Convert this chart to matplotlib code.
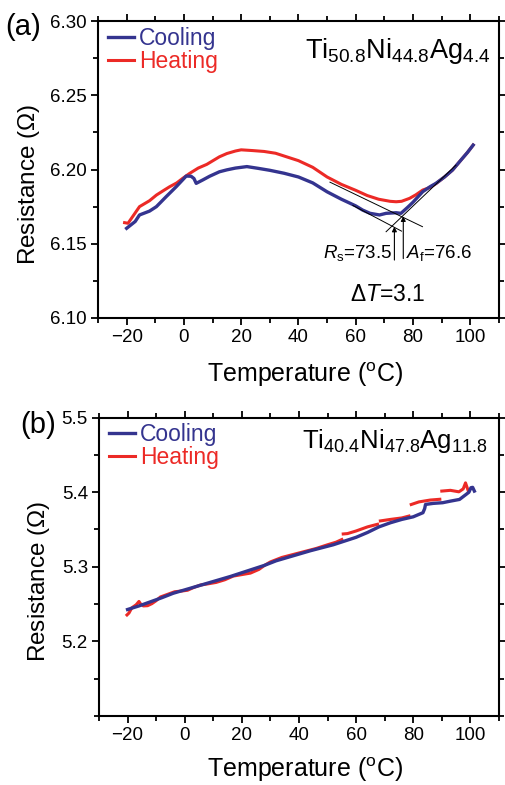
import matplotlib
matplotlib.use('Agg')
import numpy as np
import matplotlib.pyplot as plt
from matplotlib.ticker import MultipleLocator

plt.rcParams['font.family'] = ['Liberation Sans', 'DejaVu Sans']
plt.rcParams['mathtext.fontset'] = 'custom'
plt.rcParams['mathtext.rm'] = 'Liberation Sans'
plt.rcParams['mathtext.it'] = 'Liberation Sans:italic'
plt.rcParams['mathtext.bf'] = 'Liberation Sans:bold'

# ---- panel (a): Ti50.8Ni44.8Ag4.4 ----
cool_a_T = [-20, -17, -15.5, -12, -9.6, -6.2, -2.7, 0.8, 2.5, 3.5, 4.3, 6.6, 9, 12.4, 15, 18, 22, 26,
            30, 35, 40, 45, 50, 55, 60, 62.4, 65, 68.3, 70.6, 74.1, 75.8, 78.1, 80, 83.4, 86, 88,
            91, 93.8, 97, 99, 101]
cool_a_R = [6.1604, 6.165, 6.1694, 6.172, 6.175, 6.1817, 6.1884, 6.1956, 6.1955, 6.194, 6.1907, 6.193,
            6.1955, 6.1985, 6.1998, 6.201, 6.202, 6.2008, 6.1995, 6.1975, 6.195, 6.191, 6.185, 6.180,
            6.1755, 6.1727, 6.1705, 6.1694, 6.1705, 6.1709, 6.1705, 6.1745, 6.178, 6.1851, 6.1885,
            6.1907, 6.195, 6.1997, 6.207, 6.2115, 6.2165]
heat_a_T = [-20.7, -19.5, -18, -15.5, -12, -9.6, -7, -5, -2.5, -0.4, 2, 5, 8, 12.4, 15, 18, 20, 24,
            28, 32, 36, 40, 45, 50, 55, 60, 64, 68, 72, 74.1, 76, 78.8, 81, 83.4, 86, 88, 91, 93.8,
            97, 99, 101]
heat_a_R = [6.1642, 6.1638, 6.168, 6.175, 6.179, 6.1828, 6.186, 6.1884, 6.191, 6.1941, 6.1974, 6.201,
            6.2035, 6.2086, 6.2108, 6.2125, 6.2133, 6.2128, 6.2122, 6.211, 6.2085, 6.206, 6.2015,
            6.195, 6.190, 6.186, 6.1825, 6.180, 6.1786, 6.1783, 6.1786, 6.1806, 6.183, 6.1862,
            6.188, 6.1905, 6.195, 6.1997, 6.207, 6.2115, 6.2165]

# tangent construction lines (start/end T, start/end R)
tan_T = [(51, 83.3), (59, 76), (70.6, 95)]
tan_R = [(6.1915, 6.1615), (6.1758, 6.1585), (6.1581, 6.203)]
Rs, Af, dT = 73.5, 76.6, 3.1
arrow_R = [(6.139, 6.1615), (6.140, 6.1685)]

# ---- panel (b): Ti40.4Ni47.8Ag11.8 ----
cool_b_T = [101.4, 100.8, 100.2, 99.5, 98.5, 96.2, 93, 90.3, 87, 84.3, 84, 83.4, 80, 76, 72, 68, 64,
            60, 56, 52, 48, 44, 40, 36, 32, 28, 24, 20, 16, 12, 8, 4, 0, -4, -8, -12, -16, -20]
cool_b_R = [5.4015, 5.4065, 5.406, 5.400, 5.397, 5.3903, 5.388, 5.3859, 5.385, 5.3836, 5.378, 5.3725,
            5.367, 5.3635, 5.359, 5.3535, 5.346, 5.3395, 5.3345, 5.3295, 5.3255, 5.3215, 5.317,
            5.3125, 5.308, 5.302, 5.297, 5.292, 5.287, 5.2825, 5.278, 5.2735, 5.269, 5.2645,
            5.2585, 5.253, 5.2475, 5.2427]
heat_b_T = [-20.2, -19.5, -18.5, -17, -16, -15.5, -14.5, -13, -11.5, -10, -8.5, -6, -3.5, -1, 1, 3,
            5.5, 8, 11, 14, 17, 20, 23, 26, 28, 30, 34, 38, 42, 46, 50, 53, 55, np.nan, 55.5, 57, 60,
            64, 67.5, np.nan, 68.5, 72, 76, 78.5, np.nan, 79.3, 82, 86, 89.3, np.nan, 90, 93, 96,
            97.5, 98.3, 99.2]
heat_b_R = [5.2354, 5.238, 5.245, 5.249, 5.2535, 5.2505, 5.2475, 5.2478, 5.2505, 5.2545, 5.2595,
            5.263, 5.2665, 5.2675, 5.2685, 5.272, 5.2755, 5.277, 5.279, 5.2825, 5.2875, 5.2895,
            5.2915, 5.2965, 5.302, 5.3065, 5.3125, 5.3165, 5.3205, 5.3245, 5.3295, 5.333, 5.3365,
            np.nan, 5.344, 5.3445, 5.348, 5.3535, 5.357, np.nan, 5.3615, 5.3635, 5.3655, 5.368,
            np.nan, 5.3835, 5.387, 5.3895, 5.3905, np.nan, 5.4015, 5.4025, 5.4005, 5.4045, 5.4125,
            5.4025]

c_cool = '#34348f'
c_heat = '#ec2a26'

fig = plt.figure(figsize=(5.05, 7.85), dpi=100)
axa = fig.add_axes([0.194, 0.595, 0.794, 0.378])
axb = fig.add_axes([0.196, 0.088, 0.792, 0.380])


def style_axis(ax):
    ax.set_xlim(-30, 110)
    ax.set_xticks([-20, 0, 20, 40, 60, 80, 100])
    ax.xaxis.set_minor_locator(MultipleLocator(10))
    for s in ax.spines.values():
        s.set_linewidth(1.5)
    ax.tick_params(which='both', direction='out', top=True, right=True, width=1.3,
                   labelsize=13.5, pad=3)
    ax.tick_params(which='major', length=5)
    ax.tick_params(which='minor', length=3.5)
    ax.set_xlabel(r'Temperature ($^{\rm o}$C)', fontsize=18)
    ax.set_ylabel(r'Resistance ($\Omega$)', fontsize=17.5)


def add_legend(ax):
    ax.legend(loc='upper left', bbox_to_anchor=(0.01, 1.0), frameon=False, fontsize=16.5,
              labelcolor='linecolor', handlelength=1.15, handletextpad=0.2, labelspacing=0.0,
              borderaxespad=0.15, borderpad=0.1)


# panel (a)
ax = axa
ax.plot(cool_a_T, cool_a_R, color=c_cool, lw=2.4, label='Cooling', zorder=3)
ax.plot(heat_a_T, heat_a_R, color=c_heat, lw=2.2, label='Heating', zorder=2)
for tt, rr in zip(tan_T, tan_R):
    ax.plot(tt, rr, color='black', lw=0.7, zorder=4)
for x, (r0, r1) in zip([Rs, Af], arrow_R):
    ax.annotate('', xy=(x, r1), xytext=(x, r0),
                arrowprops=dict(arrowstyle='-|>', color='black', lw=0.8,
                                mutation_scale=7, shrinkA=0, shrinkB=0))
ax.text(Rs - 0.7, 6.1405, r'$R_{\rm s}$=' + f'{Rs}', ha='right', va='baseline', fontsize=13.5)
ax.text(Af + 1.1, 6.1405, r'$A_{\rm f}$=' + f'{Af}', ha='left', va='baseline', fontsize=13.5)
ax.text(71.3, 6.1155, r'$\Delta T$=' + f'{dT}', ha='center', va='center', fontsize=16.5)
ax.set_ylim(6.10, 6.30)
ax.set_yticks([6.10, 6.15, 6.20, 6.25, 6.30])
ax.yaxis.set_minor_locator(MultipleLocator(0.025))
style_axis(ax)
ax.text(0.978, 0.90, r'Ti$_{50.8}$Ni$_{44.8}$Ag$_{4.4}$', transform=ax.transAxes,
        ha='right', va='center', fontsize=19.5)
add_legend(ax)
ax.xaxis.set_label_coords(0.516, -0.142)
ax.yaxis.set_label_coords(-0.14, 0.45)

# panel (b)
ax = axb
ax.plot(cool_b_T, cool_b_R, color=c_cool, lw=2.4, label='Cooling', zorder=3)
ax.plot(heat_b_T, heat_b_R, color=c_heat, lw=2.2, label='Heating', zorder=2)
ax.set_ylim(5.1, 5.5)
ax.set_yticks([5.2, 5.3, 5.4, 5.5])
ax.yaxis.set_minor_locator(MultipleLocator(0.05))
style_axis(ax)
ax.text(0.972, 0.92, r'Ti$_{40.4}$Ni$_{47.8}$Ag$_{11.8}$', transform=ax.transAxes,
        ha='right', va='center', fontsize=18.5)
add_legend(ax)
ax.xaxis.set_label_coords(0.516, -0.132)
ax.yaxis.set_label_coords(-0.118, 0.45)

fig.text(5 / 505, 1 - 27 / 785, '(a)', fontsize=21, ha='left', va='center')
fig.text(20 / 505, 1 - 425 / 785, '(b)', fontsize=21, ha='left', va='center')

fig.savefig('out.png', dpi=100)
